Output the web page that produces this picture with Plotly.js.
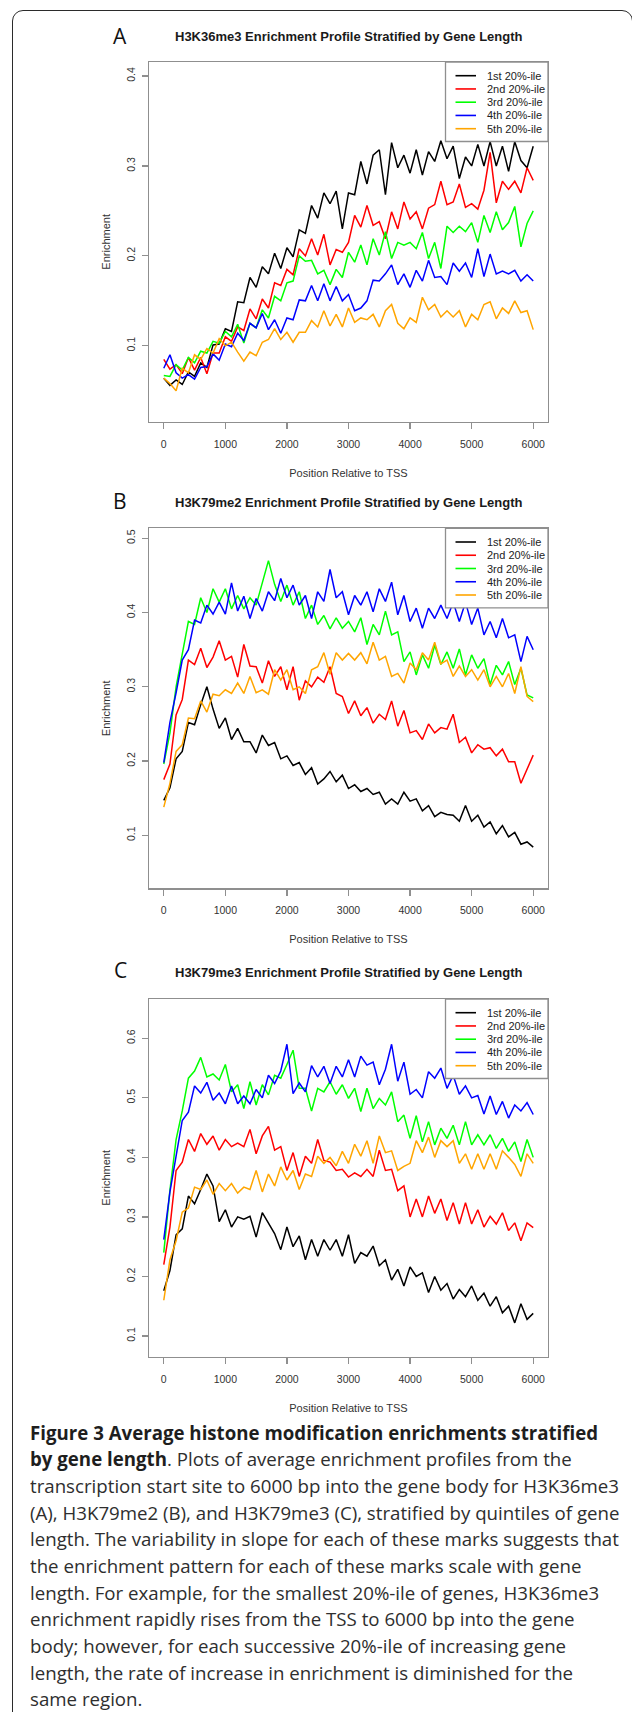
<!DOCTYPE html>
<html>
<head>
<meta charset="utf-8">
<script src="https://cdn.plot.ly/plotly-3.0.1.min.js"></script>
<style>
html,body{margin:0;padding:0;background:#fff;width:632px;height:1712px;overflow:hidden;}
#frame{position:absolute;left:12px;top:10px;width:621px;height:1800px;border:1.3px solid #2b2b2b;border-radius:11px;box-sizing:border-box;}
#chart{position:absolute;left:0;top:0;width:632px;height:1712px;}
#caption{position:absolute;left:30px;top:1419.5px;font-family:'Open Sans',sans-serif;font-size:19px;line-height:26.67px;color:#2e2e2e;transform-origin:0 0;}
#caption .ln{display:block;width:max-content;white-space:nowrap;}
#caption b{font-weight:700;color:#1e1e1e;}
</style>
</head>
<body>
<div id="frame"></div>
<div id="chart"></div>
<div id="caption">
<div class="ln"><b>Figure 3 Average histone modification enrichments stratified</b></div>
<div class="ln"><b>by gene length</b>. Plots of average enrichment profiles from the</div>
<div class="ln">transcription start site to 6000 bp into the gene body for H3K36me3</div>
<div class="ln">(A), H3K79me2 (B), and H3K79me3 (C), stratified by quintiles of gene</div>
<div class="ln">length. The variability in slope for each of these marks suggests that</div>
<div class="ln">the enrichment pattern for each of these marks scale with gene</div>
<div class="ln">length. For example, for the smallest 20%-ile of genes, H3K36me3</div>
<div class="ln">enrichment rapidly rises from the TSS to 6000 bp into the gene</div>
<div class="ln">body; however, for each successive 20%-ile of increasing gene</div>
<div class="ln">length, the rate of increase in enrichment is diminished for the</div>
<div class="ln">same region.</div>
</div>
<script>
// ---------------- DATA ----------------
const positions = [0,100,200,300,400,500,600,700,800,900,
  1000,1100,1200,1300,1400,1500,1600,1700,1800,1900,
  2000,2100,2200,2300,2400,2500,2600,2700,2800,2900,
  3000,3100,3200,3300,3400,3500,3600,3700,3800,3900,
  4000,4100,4200,4300,4400,4500,4600,4700,4800,4900,
  5000,5100,5200,5300,5400,5500,5600,5700,5800,5900,
  6000];

const seriesNames = ['1st 20%-ile','2nd 20%-ile','3rd 20%-ile','4th 20%-ile','5th 20%-ile'];
const panelTitles = ['H3K36me3 Enrichment Profile Stratified by Gene Length',
  'H3K79me2 Enrichment Profile Stratified by Gene Length',
  'H3K79me3 Enrichment Profile Stratified by Gene Length'];
const panelLetters = ['A','B','C'];
const xTitle = 'Position Relative to TSS';
const yTitle = 'Enrichment';

// Panel A: H3K36me3
const k36me3_q1 = [0.064,0.056,0.062,0.057,0.071,0.066,0.081,0.076,0.101,0.102,
  0.119,0.116,0.149,0.148,0.176,0.165,0.188,0.180,0.203,0.186,
  0.209,0.199,0.229,0.225,0.256,0.242,0.270,0.258,0.272,0.230,
  0.270,0.268,0.305,0.280,0.312,0.318,0.268,0.326,0.298,0.312,
  0.292,0.318,0.290,0.316,0.305,0.328,0.308,0.322,0.286,0.310,
  0.300,0.324,0.300,0.327,0.300,0.322,0.294,0.327,0.306,0.298,
  0.322];
const k36me3_q2 = [0.085,0.074,0.079,0.069,0.087,0.073,0.087,0.069,0.092,0.092,
  0.110,0.105,0.121,0.117,0.141,0.130,0.152,0.142,0.170,0.167,
  0.185,0.179,0.208,0.200,0.219,0.201,0.224,0.190,0.207,0.204,
  0.215,0.245,0.232,0.256,0.234,0.238,0.219,0.249,0.230,0.260,
  0.241,0.249,0.230,0.253,0.257,0.283,0.257,0.260,0.280,0.254,
  0.258,0.252,0.273,0.315,0.259,0.283,0.274,0.283,0.270,0.298,
  0.284];
const k36me3_q3 = [0.067,0.066,0.079,0.073,0.087,0.081,0.094,0.092,0.105,0.103,
  0.116,0.110,0.124,0.103,0.125,0.120,0.140,0.131,0.155,0.150,
  0.170,0.172,0.200,0.194,0.195,0.180,0.184,0.168,0.185,0.176,
  0.204,0.193,0.212,0.190,0.219,0.201,0.227,0.197,0.215,0.212,
  0.215,0.208,0.226,0.197,0.215,0.186,0.233,0.226,0.233,0.227,
  0.237,0.215,0.245,0.226,0.249,0.229,0.237,0.255,0.210,0.236,
  0.250];
const k36me3_q4 = [0.075,0.090,0.070,0.064,0.068,0.063,0.076,0.077,0.091,0.084,
  0.102,0.099,0.114,0.106,0.125,0.120,0.136,0.118,0.129,0.114,
  0.131,0.129,0.151,0.150,0.167,0.150,0.169,0.150,0.166,0.150,
  0.157,0.139,0.142,0.150,0.173,0.172,0.180,0.190,0.168,0.180,
  0.165,0.184,0.172,0.195,0.176,0.177,0.168,0.192,0.183,0.192,
  0.176,0.208,0.177,0.202,0.180,0.183,0.180,0.184,0.172,0.179,
  0.172];
const k36me3_q5 = [0.064,0.058,0.050,0.075,0.070,0.090,0.085,0.097,0.092,0.108,
  0.100,0.104,0.093,0.083,0.093,0.089,0.104,0.107,0.119,0.107,
  0.115,0.104,0.115,0.115,0.128,0.121,0.139,0.122,0.135,0.121,
  0.142,0.126,0.131,0.129,0.135,0.121,0.139,0.146,0.125,0.119,
  0.131,0.126,0.154,0.140,0.146,0.132,0.139,0.132,0.139,0.121,
  0.135,0.129,0.146,0.149,0.130,0.142,0.136,0.150,0.137,0.139,
  0.118];

// Panel B: H3K79me2
const k79me2_q1 = [0.147,0.164,0.203,0.213,0.252,0.249,0.276,0.300,0.270,0.244,
  0.258,0.229,0.244,0.226,0.226,0.211,0.235,0.221,0.225,0.203,
  0.207,0.194,0.198,0.182,0.191,0.169,0.176,0.186,0.172,0.181,
  0.163,0.168,0.159,0.163,0.155,0.158,0.142,0.149,0.142,0.158,
  0.146,0.149,0.133,0.140,0.125,0.131,0.128,0.127,0.119,0.140,
  0.119,0.127,0.111,0.118,0.102,0.113,0.098,0.104,0.088,0.091,
  0.084];
const k79me2_q2 = [0.175,0.196,0.262,0.283,0.336,0.330,0.352,0.326,0.340,0.362,
  0.336,0.341,0.313,0.357,0.328,0.327,0.305,0.335,0.314,0.327,
  0.296,0.327,0.282,0.308,0.300,0.313,0.306,0.327,0.291,0.287,
  0.264,0.281,0.261,0.272,0.251,0.263,0.256,0.281,0.247,0.268,
  0.238,0.241,0.229,0.250,0.238,0.245,0.243,0.263,0.225,0.232,
  0.211,0.222,0.216,0.218,0.207,0.216,0.199,0.199,0.170,0.190,
  0.208];
const k79me2_q3 = [0.196,0.238,0.300,0.345,0.388,0.384,0.420,0.400,0.432,0.414,
  0.432,0.405,0.423,0.405,0.420,0.410,0.442,0.470,0.438,0.415,
  0.437,0.410,0.428,0.392,0.410,0.384,0.396,0.378,0.393,0.379,
  0.388,0.374,0.393,0.357,0.384,0.370,0.402,0.370,0.374,0.334,
  0.347,0.316,0.343,0.325,0.356,0.330,0.347,0.325,0.351,0.316,
  0.343,0.325,0.338,0.303,0.329,0.316,0.334,0.303,0.325,0.289,
  0.285];
const k79me2_q4 = [0.198,0.252,0.292,0.336,0.350,0.390,0.386,0.410,0.398,0.414,
  0.398,0.440,0.402,0.422,0.392,0.419,0.402,0.428,0.416,0.446,
  0.420,0.437,0.410,0.423,0.392,0.428,0.415,0.458,0.420,0.428,
  0.397,0.423,0.410,0.428,0.401,0.432,0.415,0.441,0.397,0.423,
  0.388,0.406,0.379,0.406,0.392,0.410,0.392,0.414,0.388,0.414,
  0.384,0.406,0.370,0.388,0.366,0.392,0.366,0.370,0.334,0.368,
  0.350];
const k79me2_q5 = [0.138,0.170,0.213,0.222,0.258,0.257,0.281,0.266,0.290,0.288,
  0.296,0.291,0.305,0.291,0.314,0.292,0.296,0.290,0.323,0.309,
  0.323,0.296,0.300,0.291,0.323,0.327,0.346,0.317,0.346,0.336,
  0.345,0.336,0.346,0.331,0.360,0.336,0.341,0.314,0.318,0.305,
  0.332,0.323,0.346,0.336,0.360,0.331,0.336,0.314,0.328,0.314,
  0.323,0.309,0.323,0.300,0.314,0.300,0.318,0.291,0.327,0.287,
  0.280];

// Panel C: H3K79me3
const k79me3_q1 = [0.176,0.210,0.270,0.280,0.335,0.322,0.346,0.372,0.352,0.292,
  0.312,0.283,0.300,0.296,0.301,0.266,0.307,0.290,0.272,0.245,
  0.283,0.250,0.268,0.228,0.262,0.234,0.262,0.244,0.262,0.234,
  0.270,0.222,0.240,0.234,0.251,0.218,0.228,0.194,0.212,0.184,
  0.216,0.200,0.206,0.173,0.200,0.177,0.188,0.162,0.178,0.166,
  0.184,0.160,0.172,0.150,0.166,0.139,0.150,0.122,0.154,0.128,
  0.138];
const k79me3_q2 = [0.220,0.283,0.378,0.392,0.430,0.410,0.440,0.422,0.436,0.412,
  0.430,0.418,0.424,0.418,0.447,0.406,0.436,0.452,0.412,0.418,
  0.378,0.408,0.368,0.402,0.390,0.430,0.395,0.392,0.378,0.380,
  0.367,0.374,0.368,0.380,0.368,0.412,0.378,0.380,0.344,0.352,
  0.300,0.330,0.300,0.335,0.306,0.330,0.294,0.324,0.288,0.324,
  0.288,0.312,0.283,0.301,0.288,0.307,0.277,0.290,0.260,0.290,
  0.282];
const k79me3_q3 = [0.240,0.345,0.430,0.478,0.533,0.545,0.568,0.535,0.540,0.530,
  0.556,0.510,0.522,0.482,0.527,0.488,0.522,0.505,0.538,0.533,
  0.556,0.580,0.516,0.516,0.478,0.516,0.510,0.527,0.506,0.522,
  0.499,0.516,0.477,0.516,0.482,0.499,0.488,0.510,0.460,0.471,
  0.432,0.470,0.426,0.460,0.421,0.449,0.432,0.454,0.421,0.460,
  0.421,0.438,0.421,0.438,0.415,0.432,0.410,0.426,0.393,0.430,
  0.400];
const k79me3_q4 = [0.262,0.342,0.402,0.462,0.476,0.520,0.508,0.526,0.496,0.508,
  0.490,0.520,0.490,0.503,0.490,0.514,0.500,0.538,0.524,0.545,
  0.590,0.507,0.525,0.510,0.554,0.535,0.553,0.524,0.553,0.535,
  0.564,0.535,0.570,0.555,0.560,0.522,0.548,0.590,0.528,0.560,
  0.506,0.514,0.500,0.544,0.533,0.550,0.516,0.538,0.506,0.520,
  0.500,0.504,0.473,0.503,0.472,0.494,0.466,0.488,0.478,0.492,
  0.472];
const k79me3_q5 = [0.160,0.228,0.260,0.308,0.315,0.350,0.346,0.362,0.338,0.356,
  0.344,0.356,0.340,0.350,0.346,0.378,0.342,0.372,0.352,0.384,
  0.362,0.378,0.346,0.372,0.368,0.402,0.390,0.400,0.386,0.410,
  0.390,0.422,0.402,0.428,0.390,0.436,0.408,0.411,0.378,0.385,
  0.390,0.428,0.408,0.434,0.400,0.428,0.418,0.428,0.390,0.406,
  0.380,0.406,0.380,0.406,0.380,0.411,0.400,0.388,0.368,0.406,
  0.390];

// ---------------- STYLE / LAYOUT ----------------
const colors = ['#000000','#ff0000','#00ff00','#0000ff','#ffa500'];
const W = 632, H = 1712;
const px = v => v / W, py = v => 1 - v / H;
const FONT = 'Liberation Sans, Arial, Helvetica, sans-serif';
const AX = '#8f8f8f';

const panelSeries = [
  [k36me3_q1,k36me3_q2,k36me3_q3,k36me3_q4,k36me3_q5],
  [k79me2_q1,k79me2_q2,k79me2_q3,k79me2_q4,k79me2_q5],
  [k79me3_q1,k79me3_q2,k79me3_q3,k79me3_q4,k79me3_q5]
];
const geom = [
  {top:62,   bottom:421.7,  yr:[0.0156,0.4156], titleY:36,    letterY:34.7},
  {top:528.3,bottom:888.3,  yr:[0.0286,0.5135], titleY:502.7, letterY:500},
  {top:999,  bottom:1356.7, yr:[0.0652,0.666],  titleY:972.7, letterY:968.7}
];
const plotL = 149, plotR = 548;

const traces = [];
const layout = {
  width: W, height: H,
  margin: {l:0,r:0,t:0,b:0},
  paper_bgcolor: 'rgba(0,0,0,0)',
  plot_bgcolor: '#ffffff',
  showlegend: false,
  shapes: [], annotations: []
};

panelSeries.forEach((series, p) => {
  const g = geom[p];
  const sx = p === 0 ? '' : String(p + 1);
  series.forEach((vals, j) => {
    traces.push({
      type: 'scatter', mode: 'lines',
      x: positions, y: vals,
      xaxis: 'x' + sx, yaxis: 'y' + sx,
      name: seriesNames[j],
      line: {color: colors[j], width: 1.5},
      hoverinfo: 'skip'
    });
  });
  const common = {
    showline: true, mirror: true, linecolor: AX, linewidth: 1.3,
    ticks: 'outside', ticklen: 6, tickwidth: 1.2, tickcolor: AX,
    showgrid: false, zeroline: false,
    tickfont: {family: FONT, size: 10.5, color: '#333'},
    fixedrange: true
  };
  layout['xaxis' + sx] = Object.assign({}, common, {
    domain: [px(plotL), px(plotR)],
    anchor: 'y' + sx,
    range: [-240, 6240], tick0: 0, dtick: 1000,
    ticklabelstandoff: 6,
    title: {text: xTitle, font: {family: FONT, size: 11, color: '#333'}, standoff: 20}
  });
  layout['yaxis' + sx] = Object.assign({}, common, {
    domain: [py(g.bottom), py(g.top)],
    anchor: 'x' + sx,
    range: g.yr, tick0: 0, dtick: 0.1,
    tickangle: -90,
    ticklabelstandoff: 3,
    title: {text: yTitle, font: {family: FONT, size: 11, color: '#333'}, standoff: 11}
  });
  // panel title and letter
  layout.annotations.push({
    xref:'paper', yref:'paper', x: px((plotL+plotR)/2), y: py(g.titleY),
    xanchor:'center', yanchor:'middle', showarrow:false,
    text: '<b>' + panelTitles[p] + '</b>',
    font: {family: FONT, size: 13, color: '#1a1a1a'}
  });
  layout.annotations.push({
    xref:'paper', yref:'paper', x: px(120), y: py(g.letterY + 1),
    xanchor:'center', yanchor:'middle', showarrow:false,
    text: panelLetters[p],
    font: {family: 'Open Sans, sans-serif', size: 21, color: '#111'}
  });
  // legend box
  const lgL = 445.5, lgT = g.top, lgB = g.top + 79.5;
  layout.shapes.push({
    type:'rect', xref:'paper', yref:'paper', layer:'above',
    x0: px(lgL), x1: px(plotR), y0: py(lgB), y1: py(lgT),
    fillcolor:'#ffffff', line:{color: AX, width:1.3}
  });
  seriesNames.forEach((nm, j) => {
    const yy = lgT + 13.7 + 13.25 * j;
    layout.shapes.push({
      type:'line', xref:'paper', yref:'paper', layer:'above',
      x0: px(455.5), x1: px(476), y0: py(yy), y1: py(yy),
      line:{color: colors[j], width: 1.6}
    });
    layout.annotations.push({
      xref:'paper', yref:'paper', x: px(485), y: py(yy),
      xanchor:'left', yanchor:'middle', showarrow:false,
      text: nm, font:{family: FONT, size: 11, color:'#222'}
    });
  });
});

Plotly.newPlot('chart', traces, layout, {staticPlot: true, displayModeBar: false});

// fit caption width to the reference measure
(function(){
  const cap = document.getElementById('caption');
  const lines = cap.querySelectorAll('.ln');
  const w = lines[2].getBoundingClientRect().width;
  if (w > 0) cap.style.transform = 'scaleX(' + (589 / w).toFixed(4) + ')';
})();
</script>
</body>
</html>
